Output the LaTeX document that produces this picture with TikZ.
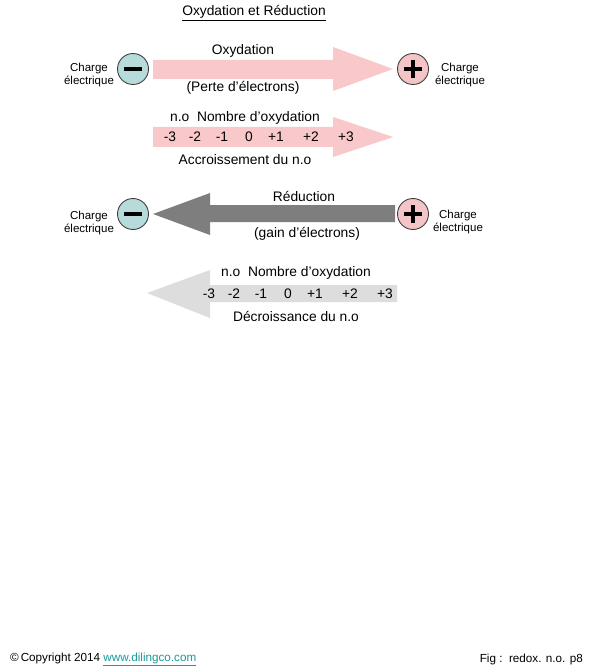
\documentclass[tikz,border=0pt]{standalone}
\usepackage{fontspec}
\setmainfont{Liberation Sans}
\definecolor{pinkA}{HTML}{F9C8CA}
\definecolor{darkA}{HTML}{7E7E7E}
\definecolor{lightA}{HTML}{DDDDDD}
\definecolor{blueC}{HTML}{B7DADB}
\definecolor{pinkC}{HTML}{F4C5C7}
\definecolor{linkC}{HTML}{1A9A9A}
\tikzset{
  txt/.style={inner sep=0pt, font=\fontsize{13.8}{16}\selectfont},
  small/.style={inner sep=0pt, align=center, font=\fontsize{11.5}{13.5}\selectfont},
  foot/.style={inner sep=0pt, font=\fontsize{11.7}{13}\selectfont},
  chg/.style={circle, minimum size=31pt, inner sep=0pt, draw=black!75, line width=0.9pt},
  bar/.style={line width=3.6pt, black},
}
\begin{document}
\begin{tikzpicture}[x=1pt,y=-1pt]
\useasboundingbox (0,0) rectangle (595,671);
\fill[white] (0,0) rectangle (595,671);
% title
\node[txt] (title) at (254,13) {\underline{Oxydation et Réduction}};
% arrow 1 (oxydation)
\fill[pinkA] (153,60) -- (333,60) -- (333,47) -- (393,69) -- (333,91) -- (333,79) -- (153,79) -- cycle;
% arrow 2 (n.o increase)
\fill[pinkA] (153,127) -- (333,127) -- (333,117) -- (393,137) -- (333,157) -- (333,147) -- (153,147) -- cycle;
% arrow 3 (reduction)
\fill[darkA] (153,214) -- (210,193) -- (210,205) -- (395,205) -- (395,222) -- (210,222) -- (210,235) -- cycle;
% arrow 4 (n.o decrease)
\fill[lightA] (147,293) -- (210,270) -- (210,285) -- (397,285) -- (397,302) -- (210,302) -- (210,318) -- cycle;
% circles row 1
\node[chg, fill=blueC] (m1) at (133,69) {};
\draw[bar] ([xshift=-9pt]m1.center) -- ([xshift=9pt]m1.center);
\node[chg, fill=pinkC] (p1) at (413,69) {};
\draw[bar] ([xshift=-9pt]p1.center) -- ([xshift=9pt]p1.center);
\draw[bar] ([yshift=-9pt]p1.center) -- ([yshift=9pt]p1.center);
% circles row 2
\node[chg, fill=blueC] (m2) at (133,214) {};
\draw[bar] ([xshift=-9pt]m2.center) -- ([xshift=9pt]m2.center);
\node[chg, fill=pinkC] (p2) at (413,214) {};
\draw[bar] ([xshift=-9pt]p2.center) -- ([xshift=9pt]p2.center);
\draw[bar] ([yshift=-9pt]p2.center) -- ([yshift=9pt]p2.center);
% charge labels
\node[small] (c1) at (89,75) {Charge\\électrique};
\node[small] (c2) at (460,75) {Charge\\électrique};
\node[small] (c3) at (89,223) {Charge\\électrique};
\node[small] (c4) at (458,222) {Charge\\électrique};
% texts row 1
\node[txt] (ox) at (243,51) {Oxydation};
\node[txt] (perte) at (243,88) {(Perte d'électrons)};
\node[txt] (no1) at (245,118) {n.o\ \ Nombre d'oxydation};
\foreach \v/\x [count=\i] in {-3/170,-2/195,-1/222,0/249,+1/276,+2/311,+3/346}
  \node[txt] (a\i) at (\x,137) {\v};
\node[txt] (acc) at (245,160) {Accroissement du n.o};
% texts row 2
\node[txt] (red) at (304,196) {Réduction};
\node[txt] (gain) at (307,234) {(gain d'électrons)};
\node[txt] (no2) at (296,273) {n.o\ \ Nombre d'oxydation};
\foreach \v/\x [count=\i] in {-3/209,-2/234,-1/261,0/288,+1/315,+2/350,+3/385}
  \node[txt] (b\i) at (\x,294) {\v};
\node[txt] (dec) at (296,316) {Décroissance du n.o};
% footer
\node[foot, anchor=west] (copy) at (10,659) {©\,Copyright 2014 \textcolor{linkC}{\underline{www.dilingco.com}}};
\node[foot, anchor=east] (fig) at (583,659) {Fig :\ \ redox. n.o. p8};
\end{tikzpicture}
\end{document}
